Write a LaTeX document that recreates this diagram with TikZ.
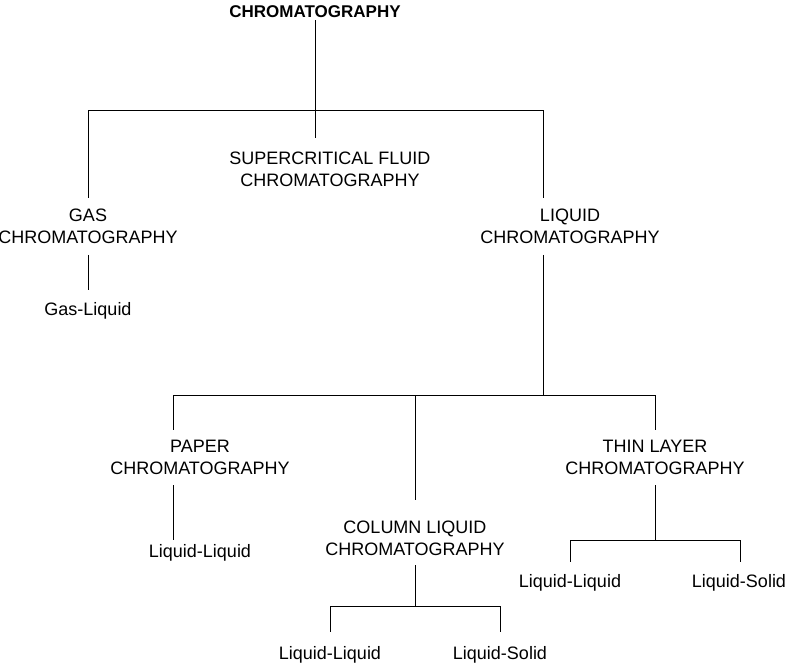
\documentclass[tikz,border=0pt]{standalone}
\usepackage{fontspec}
\setmainfont{Liberation Sans}
\begin{document}
\begin{tikzpicture}[x=1pt,y=-1pt,
  lbl/.style={align=center,inner sep=2pt,font=\fontsize{18}{22}\selectfont},
  link/.style={line width=0.9pt}]
\useasboundingbox (0,0) rectangle (785,663);
\node[lbl,font=\fontsize{17}{18}\selectfont\bfseries] (root) at (315,12) {CHROMATOGRAPHY};
\node[lbl] (scf) at (330,169) {SUPERCRITICAL FLUID\\CHROMATOGRAPHY};
\node[lbl] (gas) at (88,226) {GAS\\CHROMATOGRAPHY};
\node[lbl] (liq) at (570,226) {LIQUID\\CHROMATOGRAPHY};
\node[lbl] (gl) at (88,311) {Gas-Liquid};
\node[lbl] (pap) at (200,457) {PAPER\\CHROMATOGRAPHY};
\node[lbl] (col) at (415,538) {COLUMN LIQUID\\CHROMATOGRAPHY};
\node[lbl] (thin) at (655,457) {THIN LAYER\\CHROMATOGRAPHY};
\node[lbl] (pll) at (200,553) {Liquid-Liquid};
\node[lbl] (cll) at (330,655) {Liquid-Liquid};
\node[lbl] (cls) at (500,655) {Liquid-Solid};
\node[lbl] (tll) at (570,583) {Liquid-Liquid};
\node[lbl] (tls) at (739,583) {Liquid-Solid};
\coordinate (j1) at (315,110);
\coordinate (j2) at (543,395);
\coordinate (j3) at (415,606);
\coordinate (j4) at (655,540);
% top level
\draw[link] (root.south) -- (j1);
\draw[link] (j1) -- (315,138);
\draw[link] (j1) -| (88,198);
\draw[link] (j1) -| (543,198);
\draw[link] (88,255) -- (88,290);
% liquid branch
\draw[link] (543,255) -- (j2);
\draw[link] (j2) -| (173,430);
\draw[link] (j2) -| (655,430);
\draw[link] (j2) -| (415,500);
\draw[link] (173,485) -- (173,540);
\draw[link] (415,565) -- (j3);
\draw[link] (j3) -| (330,632);
\draw[link] (j3) -| (500,632);
\draw[link] (655,485) -- (j4);
\draw[link] (j4) -| (570,562);
\draw[link] (j4) -| (740,562);
\end{tikzpicture}
\end{document}
